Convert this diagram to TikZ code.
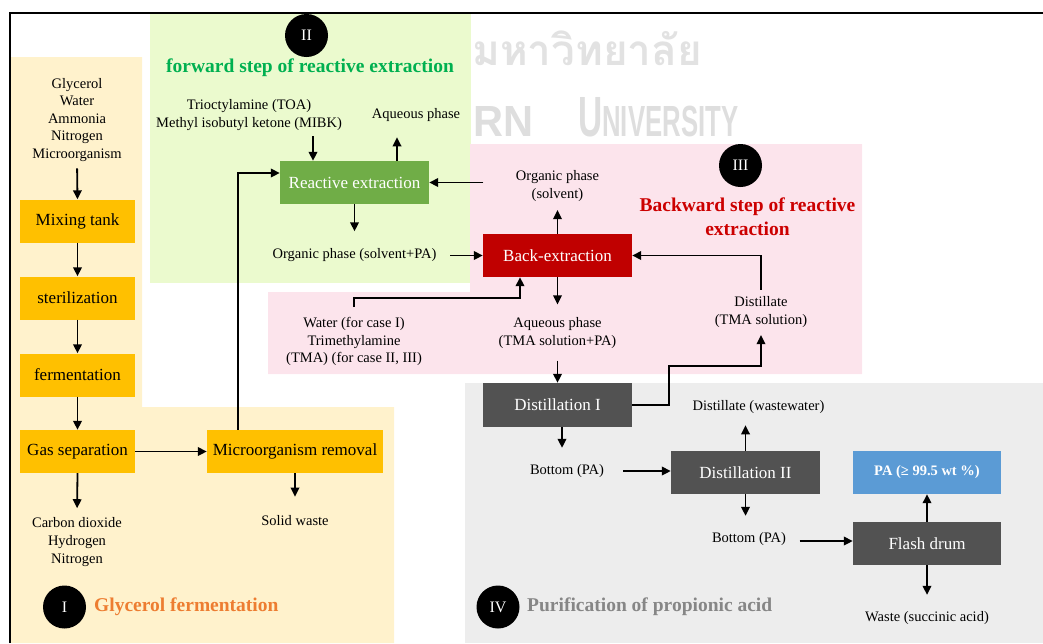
\documentclass[tikz,border=0pt]{standalone}
\usepackage{fontspec}
\setmainfont{Liberation Serif}
\newfontfamily\thaifont[Script=Thai]{Loma}
\newfontfamily\wmfont{Liberation Sans}
\usetikzlibrary{arrows.meta}

\definecolor{zoneI}{HTML}{FFF2CC}
\definecolor{zoneII}{HTML}{EBFACE}
\definecolor{zoneIII}{HTML}{FCE4EC}
\definecolor{zoneIV}{HTML}{EDEDED}
\definecolor{unitYellow}{HTML}{FFC000}
\definecolor{unitGreen}{HTML}{70AD47}
\definecolor{unitRed}{HTML}{C00000}
\definecolor{unitGray}{HTML}{525252}
\definecolor{unitBlue}{HTML}{5B9BD5}
\definecolor{titleGreen}{HTML}{00B050}
\definecolor{titleRed}{HTML}{CC0000}
\definecolor{titleOrange}{HTML}{ED7D31}
\definecolor{titleGray}{HTML}{868686}
\definecolor{watermarkThai}{HTML}{E2E2E2}
\definecolor{watermarkLatin}{HTML}{DEDEDE}

\begin{document}
\begin{tikzpicture}[x=1pt,y=-1pt,
  unit/.style={rectangle, minimum height=43pt, minimum width=149pt, inner sep=0pt,
    font=\fontsize{17}{20}\selectfont},
  yellowunit/.style={unit, fill=unitYellow, text=black, minimum width=115pt},
  greenunit/.style={unit, fill=unitGreen, text=white},
  redunit/.style={unit, fill=unitRed, text=white},
  grayunit/.style={unit, fill=unitGray, text=white},
  stream/.style={align=center, inner sep=0pt, yshift=-2pt, font=\fontsize{14.5}{17.6}\selectfont},
  flow/.style={line width=1.8pt, -{Triangle[length=9pt,width=8.5pt]}},
  badge/.style={circle, fill=black, minimum size=43pt, inner sep=0pt, text=white,
    font=\fontsize{16}{16}\selectfont},
  zonetitle/.style={inner sep=0pt, align=center, font=\bfseries\fontsize{19.5}{23.5}\selectfont}
]
\useasboundingbox (0,0) rectangle (1043,643);

% faint university watermark behind the zones
\node[anchor=base west, inner sep=0pt, text=watermarkThai] (wmthai) at (472,65)
  {\resizebox{230pt}{!}{\thaifont\bfseries มหาวิทยาลัย}};
\node[anchor=base west, inner sep=0pt, text=watermarkLatin] (wmlatA) at (473,136)
  {\resizebox{60pt}{30pt}{\wmfont\bfseries RN}};
\node[anchor=base west, inner sep=0pt, text=watermarkLatin] (wmlatB) at (578,136)
  {\resizebox{160pt}{39pt}{\wmfont\bfseries{\fontsize{39}{39}\selectfont U}{\fontsize{30}{30}\selectfont NIVERSITY}}};

% zone backgrounds
\fill[zoneI] (10,57) -- (142,57) -- (142,407) -- (394,407) -- (394,643) -- (10,643) -- cycle;
\fill[zoneII] (150,13) rectangle (471,283);
\fill[zoneIII] (470,144) -- (862,144) -- (862,374) -- (268,374) -- (268,292) -- (470,292) -- cycle;
\fill[zoneIV] (465,383) rectangle (1043,643);

% frame
\draw[line width=1.2pt] (10,643) -- (10,13) -- (1043,13);

% zone I : glycerol fermentation
\node[stream] (feed) at (77,117.8) {Glycerol\\Water\\Ammonia\\Nitrogen\\Microorganism};
\node[yellowunit] (mix) at (77.5,221) {Mixing tank};
\node[yellowunit] (ster) at (77.5,298) {sterilization};
\node[yellowunit] (ferm) at (77.5,375) {fermentation};
\node[yellowunit] (gas) at (77.5,451.5) {Gas separation};
\node[yellowunit, minimum width=176pt] (micro) at (295,451.5) {Microorganism removal};
\node[stream] (gases) at (77,540) {Carbon dioxide\\Hydrogen\\Nitrogen};
\node[stream] (solid) at (295,519) {Solid waste};

% zone II : forward reactive extraction
\node[greenunit] (reac) at (354.5,182.5) {Reactive extraction};
\node[stream] (solvent) at (249,113) {Trioctylamine (TOA)\\Methyl isobutyl ketone (MIBK)};
\node[stream] (aqout) at (416,113) {Aqueous phase};
\node[stream] (orgpa) at (354.5,253.5) {Organic phase (solvent+PA)};

% zone III : back-extraction
\node[redunit] (back) at (557.5,255.5) {Back-extraction};
\node[stream] (orgback) at (557.5,184) {Organic phase\\(solvent)};
\node[stream] (water) at (354,339.5) {Water (for case I)\\Trimethylamine\\(TMA) (for case II, III)};
\node[stream] (aqpa) at (557.5,331) {Aqueous phase\\(TMA solution+PA)};
\node[stream] (tmaback) at (761,310) {Distillate\\(TMA solution)};

% zone IV : purification
\node[grayunit, minimum height=44pt] (dist1) at (557.5,405) {Distillation I};
\node[stream] (bottom1) at (567,469) {Bottom (PA)};
\node[grayunit] (dist2) at (745.5,472.5) {Distillation II};
\node[stream] (wastewater) at (758.5,405) {Distillate (wastewater)};
\node[stream] (bottom2) at (749,537) {Bottom (PA)};
\node[unit, fill=unitBlue, text=white, minimum width=148pt,
  font=\bfseries\fontsize{14.5}{17}\selectfont] (product) at (927,472.5) {PA (≥ 99.5 wt \%)};
\node[grayunit, minimum width=148pt] (flash) at (927,543.5) {Flash drum};
\node[stream] (waste) at (927,616) {Waste (succinic acid)};

% zone badges and titles
\node[badge] (badgeI) at (64.5,607) {I};
\node[zonetitle, anchor=west, text=titleOrange] (titleI) at (94,607) {Glycerol fermentation};
\node[badge] (badgeII) at (306.5,35.5) {II};
\node[zonetitle, text=titleGreen] (titleII) at (310,68) {forward step of reactive extraction};
\node[badge] (badgeIII) at (740.5,165.5) {III};
\node[zonetitle, text=titleRed] (titleIII) at (747.5,216.5) {Backward step of reactive\\extraction};
\node[badge] (badgeIV) at (498,607) {IV};
\node[zonetitle, anchor=west, text=titleGray] (titleIV) at (527,607) {Purification of propionic acid};

% helper points for off-centre connections
\coordinate (reacin) at ([xshift=-41.5pt]reac.north);
\coordinate (reacup) at ([xshift=42.5pt]reac.north);
\coordinate (watertop) at ([yshift=10pt]water.north);
\coordinate (tmatop) at ([yshift=6.5pt]tmaback.north);
\coordinate (dist1out) at ([xshift=4.5pt]dist1.south);
\coordinate (flashin) at ([yshift=2.5pt]flash.west);

% connectors, zone I
\draw[flow, shorten <=6.5pt] (feed.south) -- (mix.north);
\draw[flow] (mix) -- (ster);
\draw[flow] (ster) -- (ferm);
\draw[flow] (ferm) -- (gas);
\draw[flow] (gas) -- (micro);
\draw[flow, shorten >=9.4pt] (gas.south) -- (gases.north);
\draw[flow, shorten >=19pt] (micro.south) -- (solid.north);
\draw[flow] ([xshift=-57pt]micro.north) |- ([yshift=9.5pt]reac.west);

% connectors, zone II
\draw[flow, shorten <=5.5pt] (solvent.south -| reacin) -- (reacin);
\draw[flow, shorten >=15.5pt] (reacup) -- (reacup |- aqout.south);
\draw[flow, shorten <=32.5pt] (orgback.west |- reac.east) -- (reac.east);
\draw[flow, shorten >=17.4pt] (reac.south) -- (orgpa.north);
\draw[flow, shorten <=13.5pt] (orgpa.east |- back.west) -- (back.west);

% connectors, zone III
\draw[flow, shorten >=8.5pt] (back.north) -- (orgback.south);
\draw[flow, shorten >=13pt] (back.south) -- (aqpa.north);
\draw[flow] (watertop) -- ++(0,-9) -| ([xshift=-37.5pt]back.south);
\draw[flow] (tmatop) |- (back.east);
\draw[flow, shorten <=12pt] (aqpa.south) -- (dist1.north);

% connectors, zone IV
\draw[flow] (dist1.east) -- ++(37,0) -- ++(0,-39) -| ([yshift=-7.5pt]tmaback.south);
\draw[flow, shorten >=16.4pt] (dist1out) -- (dist1out |- bottom1.north);
\draw[flow, shorten <=19pt] (bottom1.east) -- (bottom1.east -| dist2.west);
\draw[flow, shorten >=11.5pt] (dist2.north) -- (dist2.north |- wastewater.south);
\draw[flow, shorten >=16.4pt] (dist2.south) -- (dist2.south |- bottom2.north);
\draw[flow, shorten <=13.3pt] (bottom2.east |- flashin) -- (flashin);
\draw[flow] (flash) -- (product);
\draw[flow, shorten >=16.4pt] (flash.south) -- (waste.north);
\end{tikzpicture}
\end{document}
